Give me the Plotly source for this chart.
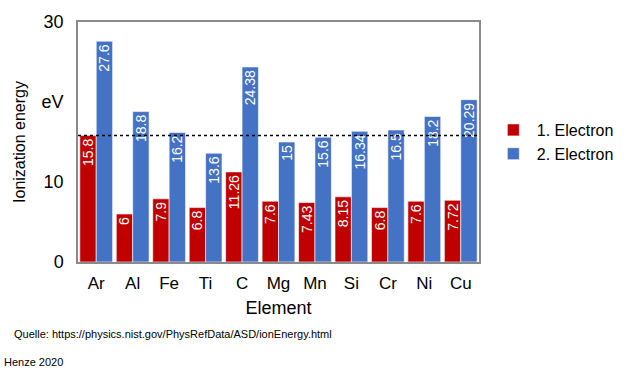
import plotly.graph_objects as go

elements = ["Ar", "Al", "Fe", "Ti", "C", "Mg", "Mn", "Si", "Cr", "Ni", "Cu"]
first_ie = [15.8, 6, 7.9, 6.8, 11.26, 7.6, 7.43, 8.15, 6.8, 7.6, 7.72]
second_ie = [27.6, 18.8, 16.2, 13.6, 24.38, 15, 15.6, 16.34, 16.5, 18.2, 20.29]
y_tickvals = [0, 10, 20, 30]
y_ticktext = ["0", "10", "eV", "30"]
reference_level = first_ie[0]

FONT = "Liberation Sans, Arial, sans-serif"
RED = "#C00000"
BLUE = "#4472C4"

fig = go.Figure()
for name, vals, color in [("1. Electron", first_ie, RED), ("2. Electron", second_ie, BLUE)]:
    fig.add_trace(go.Bar(
        x=elements, y=vals, name=name,
        marker=dict(color=color, line=dict(color="rgba(255,255,255,0.6)", width=1)),
        text=[f"{v:g}" for v in vals],
        textposition="inside", insidetextanchor="end", textangle=-90,
        constraintext="none",
        textfont=dict(family=FONT, size=14, color="white"),
        cliponaxis=False,
    ))

fig.add_shape(type="line", xref="paper", x0=0, x1=1, yref="y",
              y0=reference_level, y1=reference_level,
              line=dict(color="black", width=1.5, dash="dot"))

fig.update_layout(
    width=634, height=371,
    margin=dict(l=78, r=155, t=18, b=109),
    paper_bgcolor="white", plot_bgcolor="white",
    barmode="group", bargap=0.1, bargroupgap=0,
    font=dict(family=FONT, color="black"),
    showlegend=True,
    legend=dict(x=1.027, y=0.5, xanchor="left", yanchor="middle",
                font=dict(family=FONT, size=16), itemwidth=37,
                tracegroupgap=0, bgcolor="rgba(0,0,0,0)"),
)
fig.update_xaxes(
    showline=True, linecolor="#8a8a8a", linewidth=1.5, mirror=True,
    ticks="", tickfont=dict(family=FONT, size=17), ticklabelstandoff=5,
    title=dict(text="Element", font=dict(family=FONT, size=18), standoff=9),
)
fig.update_yaxes(
    range=[0, 30], tickvals=y_tickvals, ticktext=y_ticktext,
    showline=True, linecolor="#8a8a8a", linewidth=1.5, mirror=True,
    showgrid=False, zeroline=False, ticks="", ticklen=0,
    tickfont=dict(family=FONT, size=18), ticklabelstandoff=9,
    title=dict(text="Ionization energy", font=dict(family=FONT, size=16), standoff=12),
)

fig.add_annotation(text="Quelle: https://physics.nist.gov/PhysRefData/ASD/ionEnergy.html",
                   xref="paper", yref="paper", x=-0.165, y=-0.3,
                   xanchor="left", yanchor="middle", showarrow=False,
                   font=dict(family=FONT, size=11))
fig.add_annotation(text="Henze 2020",
                   xref="paper", yref="paper", x=-0.19, y=-0.415,
                   xanchor="left", yanchor="middle", showarrow=False,
                   font=dict(family=FONT, size=11))

fig.write_html("out.html")
